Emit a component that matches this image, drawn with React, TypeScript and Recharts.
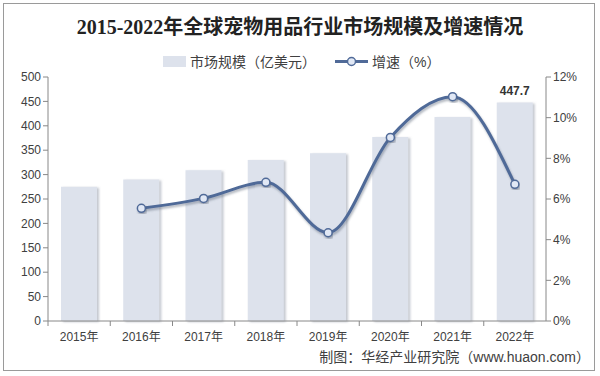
import React from "react";
import { ComposedChart, Bar, Line, XAxis, YAxis, LabelList } from "recharts";

const years = ["2015年", "2016年", "2017年", "2018年", "2019年", "2020年", "2021年", "2022年"];
const marketSize = [275, 290, 309, 330, 344, 377, 418, 447.7];
const growth = [null, 5.54, 6.03, 6.82, 4.34, 9.03, 11.03, 6.72];
const leftTicks = [0, 50, 100, 150, 200, 250, 300, 350, 400, 450, 500];
const rightTicks = [0, 2, 4, 6, 8, 10, 12];

const data = years.map((y, i) => ({ year: y, size: marketSize[i], growth: growth[i] }));

const W = 600;
const H = 376;
const PLOT_LEFT = 48;
const PLOT_RIGHT = 546;
const BAND = (PLOT_RIGHT - PLOT_LEFT) / years.length;

const FONT = '"Liberation Sans", Arial, "Noto Sans CJK SC", sans-serif';
const TXT = "#404040";

const XTick = (props: any) => {
  const { x, y, payload } = props;
  return (
    <g>
      <line x1={x - BAND / 2} y1={y - 8} x2={x - BAND / 2} y2={y - 3} stroke="#888" />
      <text x={x} y={y + 12} textAnchor="middle" fontSize={12} fill={TXT} fontFamily={FONT}>
        {payload.value}
      </text>
    </g>
  );
};

const LastLabel = (props: any) => {
  const { x, y, width, value, index } = props;
  if (index !== years.length - 1) return null;
  return (
    <text x={x + width / 2} y={y - 8} textAnchor="middle" fontSize={12} fontWeight="bold" fill="#333" fontFamily={FONT}>
      {value}
    </text>
  );
};

export default function App() {
  return (
    <div style={{ position: "absolute", left: 0, top: 0, width: W, height: H, background: "#fff" }}>
      <svg width={W} height={H} style={{ position: "absolute", left: 0, top: 0 }}>
        <rect x={3.5} y={3.5} width={591} height={367} fill="#fff" stroke="#9a9a9a" strokeWidth={1} />
        <text
          x={300}
          y={34}
          textAnchor="middle"
          fontSize={20}
          fontWeight="bold"
          fill="#222"
          fontFamily='"Liberation Serif", "Noto Sans CJK SC", serif'
        >
          2015-2022年全球宠物用品行业市场规模及增速情况
        </text>
        <rect x={163} y={56} width={23} height={11} fill="#dde2ec" />
        <text x={190} y={67} fontSize={14} fill={TXT} fontFamily={FONT}>
          市场规模（亿美元）
        </text>
        <line x1={335} y1={61.5} x2={368} y2={61.5} stroke="#506a98" strokeWidth={3} />
        <circle cx={351.5} cy={61.5} r={4} fill="#e1e8f5" stroke="#506a98" strokeWidth={1.5} />
        <text x={372} y={67} fontSize={14} fill={TXT} fontFamily={FONT}>
          增速（%）
        </text>
        <text x={590} y={362} textAnchor="end" fontSize={14} fill={TXT} fontFamily={FONT}>
          制图：华经产业研究院（www.huaon.com）
        </text>
      </svg>
      <div style={{ position: "absolute", left: 0, top: 0 }}>
        <ComposedChart width={W} height={H} data={data} margin={{ top: 77, right: 0, bottom: 25, left: 0 }}>
          <defs>
            <filter id="barShadow" x="-20%" y="-5%" width="150%" height="110%">
              <feDropShadow dx="2" dy="1" stdDeviation="1" floodColor="#8890a0" floodOpacity="0.5" />
            </filter>
            <filter id="lineShadow" x="-10%" y="-10%" width="120%" height="130%">
              <feDropShadow dx="1" dy="2" stdDeviation="1.2" floodColor="#505a70" floodOpacity="0.45" />
            </filter>
          </defs>
          <XAxis
            dataKey="year"
            xAxisId="x"
            height={30}
            tickLine={false}
            stroke="#888"
            tick={<XTick />}
            interval={0}
          />
          <YAxis
            yAxisId="left"
            orientation="left"
            width={48}
            domain={[0, 500]}
            ticks={leftTicks}
            stroke="#888"
            tickSize={5}
            tick={{ fontSize: 12, fill: TXT, fontFamily: FONT }}
            interval={0}
          />
          <YAxis
            yAxisId="right"
            orientation="right"
            width={54}
            domain={[0, 12]}
            ticks={rightTicks}
            stroke="#888"
            tickSize={5}
            tickFormatter={(v: number) => `${v}%`}
            tick={{ fontSize: 12, fill: TXT, fontFamily: FONT }}
            interval={0}
          />
          <Bar
            xAxisId="x"
            yAxisId="left"
            dataKey="size"
            barSize={36}
            fill="#dde2ec"
            style={{ filter: "url(#barShadow)" }}
            isAnimationActive={false}
          >
            <LabelList dataKey="size" content={<LastLabel />} />
          </Bar>
          <Line
            xAxisId="x"
            yAxisId="right"
            dataKey="growth"
            type="monotone"
            stroke="#506a98"
            strokeWidth={3}
            dot={{ r: 4, fill: "#e1e8f5", stroke: "#506a98", strokeWidth: 1.5 }}
            style={{ filter: "url(#lineShadow)" }}
            connectNulls={false}
            isAnimationActive={false}
          />
        </ComposedChart>
      </div>
    </div>
  );
}
